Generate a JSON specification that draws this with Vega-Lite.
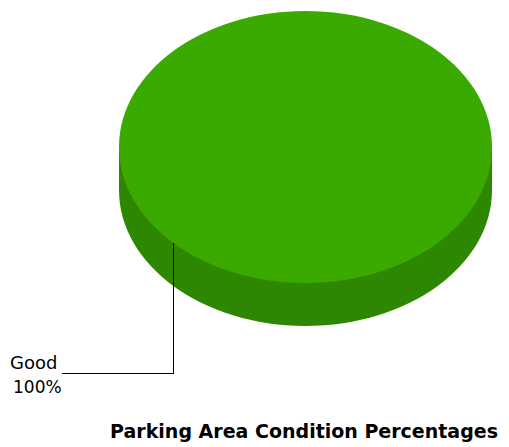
{
  "$schema": "https://vega.github.io/schema/vega-lite/v6.json",
  "width": 509,
  "height": 447,
  "autosize": {"type": "none"},
  "padding": 0,
  "background": "white",
  "config": {"view": {"stroke": null}, "font": "DejaVu Sans"},
  "title": {
    "text": "Parking Area Condition Percentages",
    "orient": "bottom",
    "anchor": "end",
    "baseline": "alphabetic",
    "offset": -9,
    "dx": -11,
    "font": "DejaVu Sans",
    "fontSize": 19,
    "fontWeight": "bold",
    "color": "#000000"
  },
  "data": {"values": [{"category": "Good", "share": 1}]},
  "encoding": {
    "x": {"datum": 305.5, "type": "quantitative", "scale": {"domain": [0, 509], "nice": false, "zero": false}, "axis": null},
    "y": {"datum": 147, "type": "quantitative", "scale": {"domain": [0, 447], "nice": false, "zero": false, "reverse": true}, "axis": null}
  },
  "layer": [
    {
      "mark": {
        "type": "point",
        "filled": true,
        "opacity": 1,
        "color": "#2e8700",
        "size": 139129,
        "shape": "M -1 0 L -1 0.2306 A 1 0.729 0 0 0 1 0.2306 L 1 0 Z"
      }
    },
    {
      "mark": {
        "type": "point",
        "filled": true,
        "opacity": 1,
        "color": "#3aaa00",
        "size": 139129,
        "shape": "M -1 0 A 1 0.729 0 1 0 1 0 A 1 0.729 0 1 0 -1 0 Z"
      }
    },
    {
      "mark": {"type": "rule", "color": "#000000", "strokeWidth": 1},
      "encoding": {
        "x": {"datum": 173.5},
        "y": {"datum": 243},
        "y2": {"datum": 373.5}
      }
    },
    {
      "mark": {"type": "rule", "color": "#000000", "strokeWidth": 1},
      "encoding": {
        "x": {"datum": 62},
        "x2": {"datum": 174},
        "y": {"datum": 373.5}
      }
    },
    {
      "mark": {"type": "text", "align": "left", "baseline": "alphabetic", "fontSize": 18, "color": "#000000"},
      "encoding": {
        "x": {"datum": 10},
        "y": {"datum": 369},
        "text": {"field": "category", "type": "nominal"}
      }
    },
    {
      "mark": {"type": "text", "align": "left", "baseline": "alphabetic", "fontSize": 17, "color": "#000000"},
      "encoding": {
        "x": {"datum": 13},
        "y": {"datum": 393},
        "text": {"field": "share", "type": "quantitative", "format": ".0%"}
      }
    }
  ]
}
